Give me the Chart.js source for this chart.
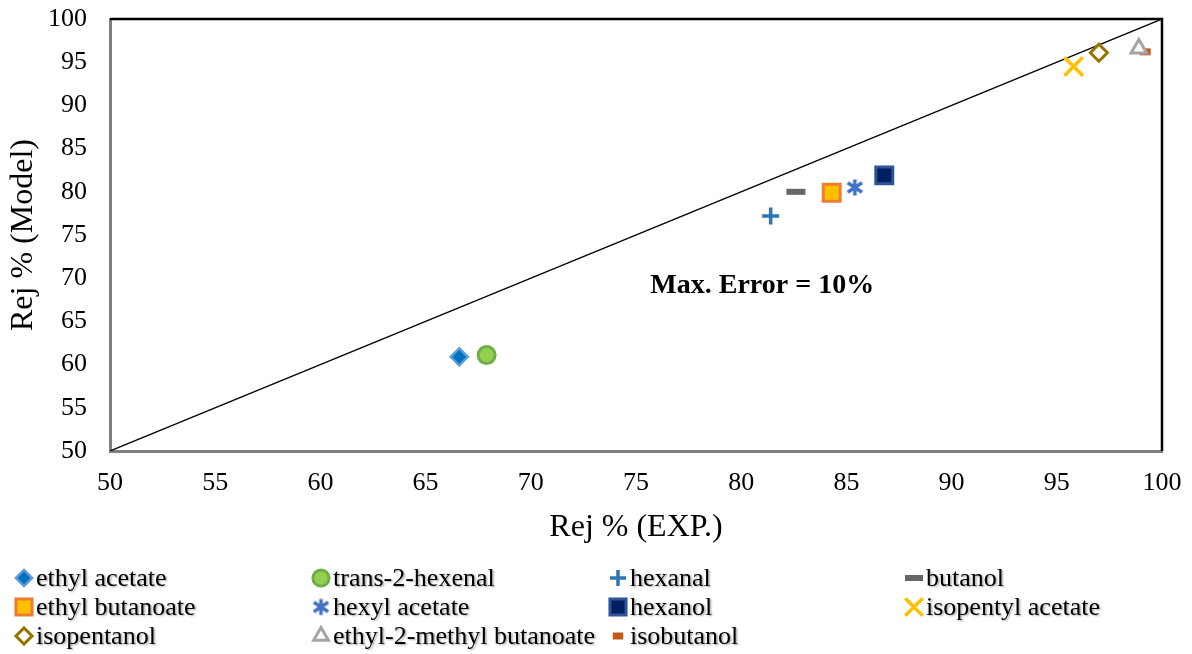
<!DOCTYPE html>
<html>
<head>
<meta charset="utf-8">
<script src="https://cdn.jsdelivr.net/npm/chart.js@4.4.1/dist/chart.umd.min.js"></script>
<style>
html, body { margin: 0; padding: 0; background: #fff; }
#wrap { width: 1192px; height: 654px; }
</style>
</head>
<body>
<div id="wrap"><canvas id="rejChart"></canvas></div>
<script>
// compounds and rejection values
const compounds = ["ethyl acetate", "trans-2-hexenal", "hexanal", "butanol",
  "ethyl butanoate", "hexyl acetate", "hexanol", "isopentyl acetate",
  "isopentanol", "ethyl-2-methyl butanoate", "isobutanol"];
const rejExp   = [66.6, 67.9, 81.4, 82.6, 84.3, 85.4, 86.8, 95.8, 97.0, 98.9, 99.2];
const rejModel = [60.9, 61.1, 77.2, 80.0, 79.9, 80.5, 81.9, 94.5, 96.1, 96.6, 96.2];
const parityLine = [50, 100];
const axisMin = 50, axisMax = 100, axisStep = 5;
const noteText = "Max. Error = 10%";
const notePos = [81.0, 69.1];

const SERIF = "'Liberation Serif', 'Times New Roman', serif";

function asterisk(color, size) {
  const c = document.createElement("canvas");
  c.width = size; c.height = size;
  const g = c.getContext("2d");
  const m = size / 2, r = size / 2 - 1.5;
  g.strokeStyle = color;
  g.lineWidth = 3.5;
  g.beginPath();
  g.moveTo(m, m - r); g.lineTo(m, m + r);
  g.moveTo(m - r * 0.9, m - r * 0.6); g.lineTo(m + r * 0.9, m + r * 0.6);
  g.moveTo(m + r * 0.9, m - r * 0.6); g.lineTo(m - r * 0.9, m + r * 0.6);
  g.stroke();
  return c;
}

// marker look for each compound (same order as compounds)
const markers = [
  { style: "rectRot",  radius: 8.5, fill: "#0070C0", border: "#5B9BD5", width: 2.5 },
  { style: "circle",   radius: 8.5, fill: "#92D050", border: "#70AD47", width: 3 },
  { style: "cross",    radius: 8.5, fill: "#2E75B6", border: "#2E75B6", width: 3.5 },
  { style: "line",     radius: 9.5, fill: "#666666", border: "#666666", width: 6 },
  { style: "rect",     radius: 12,  fill: "#FFC000", border: "#ED7D31", width: 3 },
  { style: asterisk("#4472C4", 19), radius: 9, fill: "#4472C4", border: "#4472C4", width: 3 },
  { style: "rect",     radius: 12,  fill: "#002060", border: "#2F5597", width: 3 },
  { style: "crossRot", radius: 13,  fill: "#FFC000", border: "#FFC000", width: 3.5 },
  { style: "rectRot",  radius: 8.5, fill: "#ffffff", border: "#997300", width: 3 },
  { style: "triangle", radius: 9,   fill: "#ffffff", border: "#A5A5A5", width: 3 },
  { style: "line",     radius: 5.5, fill: "#C55A11", border: "#C55A11", width: 7 }
];

const datasets = compounds.map((name, i) => ({
  label: name,
  data: [{ x: rejExp[i], y: rejModel[i] }],
  pointStyle: markers[i].style,
  pointRadius: markers[i].radius,
  pointHoverRadius: markers[i].radius,
  backgroundColor: markers[i].fill,
  borderColor: markers[i].border,
  pointBorderWidth: markers[i].width,
  borderWidth: markers[i].width
}));

datasets.push({
  type: "line",
  label: "parity",
  data: parityLine.map(v => ({ x: v, y: v })),
  borderColor: "#000",
  borderWidth: 1.3,
  pointRadius: 0,
  fill: false
});

// top and right frame lines of the plot area
const frame = {
  id: "frame",
  beforeDatasetsDraw(chart) {
    const { ctx, chartArea: a } = chart;
    ctx.save();
    ctx.strokeStyle = "#000";
    ctx.lineWidth = 2.5;
    ctx.beginPath();
    ctx.moveTo(a.left, a.top);
    ctx.lineTo(a.right, a.top);
    ctx.lineTo(a.right, a.bottom);
    ctx.stroke();
    ctx.restore();
  }
};

const note = {
  id: "note",
  afterDatasetsDraw(chart) {
    const { ctx, scales } = chart;
    ctx.save();
    ctx.font = "bold 28px " + SERIF;
    ctx.fillStyle = "#000";
    ctx.textAlign = "center";
    ctx.textBaseline = "middle";
    ctx.fillText(noteText, scales.x.getPixelForValue(notePos[0]), scales.y.getPixelForValue(notePos[1]));
    ctx.restore();
  }
};

// legend laid out as a 4 column grid like the original
const gridLegend = {
  id: "gridLegend",
  afterDraw(chart) {
    const { ctx } = chart;
    const colX = [24, 321, 618, 914];
    const rowY = [578, 607, 636];
    ctx.save();
    ctx.font = "26px " + SERIF;
    ctx.textBaseline = "middle";
    ctx.textAlign = "left";
    compounds.forEach((name, i) => {
      const x = colX[i % 4], y = rowY[Math.floor(i / 4)];
      const m = markers[i];
      ctx.save();
      ctx.fillStyle = m.fill;
      ctx.strokeStyle = m.border;
      ctx.lineWidth = m.width;
      Chart.helpers.drawPoint(ctx, {
        pointStyle: m.style,
        radius: m.radius * 0.95,
        rotation: 0,
        borderWidth: m.width
      }, x, y);
      ctx.restore();
      ctx.shadowColor = "rgba(0,0,0,0.35)";
      ctx.shadowOffsetX = 1.5;
      ctx.shadowOffsetY = 1.5;
      ctx.shadowBlur = 2;
      ctx.fillStyle = "#000";
      ctx.fillText(name, x + 12, y + 1);
      ctx.shadowColor = "transparent";
    });
    ctx.restore();
  }
};

const tickFont = { family: SERIF, size: 26 };
const titleFont = { family: SERIF, size: 32 };

new Chart(document.getElementById("rejChart"), {
  type: "scatter",
  data: { datasets: datasets },
  options: {
    responsive: true,
    maintainAspectRatio: false,
    animation: false,
    layout: { padding: { left: 0, right: 30, top: 19, bottom: 103 } },
    plugins: {
      legend: { display: false },
      tooltip: { enabled: false }
    },
    scales: {
      x: {
        type: "linear",
        min: axisMin,
        max: axisMax,
        ticks: { stepSize: axisStep, font: tickFont, color: "#000", padding: 17, maxRotation: 0 },
        grid: { display: false, drawTicks: false },
        border: { display: true, color: "#7f7f7f", width: 3 },
        title: { display: true, text: "Rej % (EXP.)", font: titleFont, color: "#000", padding: { top: 0, bottom: 4 } },
        afterFit: s => { s.height = 100; s.paddingLeft = 0; s.paddingRight = 0; }
      },
      y: {
        type: "linear",
        min: axisMin,
        max: axisMax,
        ticks: { stepSize: axisStep, font: tickFont, color: "#000", padding: 23 },
        grid: { display: false, drawTicks: false },
        border: { display: true, color: "#7f7f7f", width: 3 },
        title: { display: true, text: "Rej % (Model)", font: titleFont, color: "#000", padding: { top: 4, bottom: 0 } },
        afterFit: s => { s.width = 110; s.paddingTop = 0; s.paddingBottom = 0; }
      }
    }
  },
  plugins: [frame, note, gridLegend]
});
</script>
</body>
</html>
